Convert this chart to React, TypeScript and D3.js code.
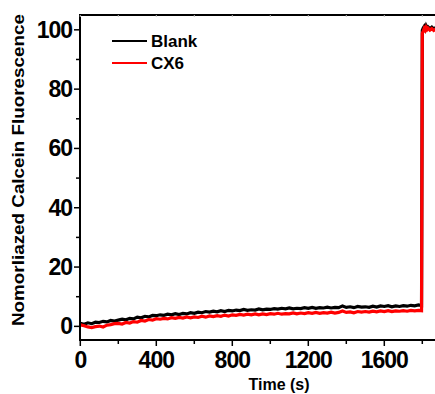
import React from "react";
import * as d3 from "d3";

const sampleStep = 20; // seconds between baseline samples
const blankBase = [
  1.0, 0.7, 1.2, 0.9, 1.4, 1.3, 1.7, 1.5, 2.0, 1.8, 2.1, 2.4, 2.2, 2.7, 2.5, 3.1, 2.9, 3.4, 3.2, 3.7,
  3.6, 3.9, 3.7, 4.1, 3.9, 4.3, 4.0, 4.4, 4.2, 4.6, 4.4, 4.8, 4.6, 5.0, 4.8, 5.1, 4.9, 5.3, 5.0, 5.4,
  5.2, 5.5, 5.3, 5.7, 5.4, 5.6, 5.5, 5.9, 5.6, 5.8, 5.7, 6.0, 5.8, 6.1, 5.9, 6.2, 5.9, 6.1, 6.0, 6.3,
  6.1, 6.4, 6.1, 6.3, 6.2, 6.5, 6.2, 6.4, 6.3, 6.9, 6.4, 6.6, 6.3, 6.7, 6.5, 6.6, 6.4, 6.8, 6.5, 6.9,
  6.7, 7.0, 6.6, 6.9, 6.7, 7.0, 6.8, 7.1, 6.9, 7.2,
];
const cx6Base = [
  0.5, 0.2, -0.2, -0.4, -0.1, 0.1, -0.2, 0.4, 0.6, 0.9, 1.0, 0.8, 1.3, 1.1, 1.6, 1.4, 2.0, 1.8, 2.3, 2.1,
  2.6, 2.4, 2.7, 2.5, 2.9, 2.7, 3.0, 2.8, 3.2, 2.9, 3.2, 3.0, 3.4, 3.1, 3.5, 3.3, 3.6, 3.4, 3.8, 3.5,
  3.9, 3.7, 4.0, 3.8, 4.1, 3.9, 4.2, 3.9, 4.2, 4.0, 4.3, 4.1, 4.4, 4.1, 4.3, 4.2, 4.5, 4.2, 4.5, 4.3,
  4.6, 4.4, 4.7, 4.4, 4.6, 4.5, 4.8, 4.5, 4.7, 5.2, 4.7, 4.9, 4.6, 5.0, 4.8, 5.0, 4.8, 5.1, 4.9, 5.2,
  5.0, 5.3, 5.0, 5.2, 5.1, 5.3, 5.1, 5.4, 5.2, 5.4,
];
const tailTimes = [1796, 1800, 1805, 1810, 1815, 1820, 1825, 1830, 1840, 1850, 1860, 1870, 1880, 1890];
const blankTail = [7.0, 99.8, 100.6, 101.1, 100.3, 101.3, 100.6, 101.0, 100.4, 100.9, 100.3, 100.7, 100.4, 100.6];
const cx6Tail = [5.3, 98.8, 99.6, 100.5, 99.9, 100.8, 100.1, 100.6, 99.9, 100.4, 99.8, 100.3, 100.0, 100.2];

const xTicks = [0, 400, 800, 1200, 1600];
const xMinor = [200, 600, 1000, 1400, 1800];
const yTicks = [0, 20, 40, 60, 80, 100];
const yMinor = [10, 30, 50, 70, 90];
const seriesNames = ["Blank", "CX6"];
const seriesColors = ["#000000", "#ff0000"];

type P = [number, number];
function build(base: number[], tail: number[]): P[] {
  const pts: P[] = base.map((v, i) => [i * sampleStep, v]);
  tailTimes.forEach((t, i) => pts.push([t, tail[i]]));
  return pts;
}

export default function App() {
  const W = 435, H = 394;
  const left = 80, top = 15, bottom = 340;
  const x = d3.scaleLinear().domain([0, 1900]).range([80.3, 441.3]);
  const y = d3.scaleLinear().domain([-4.6, 105]).range([bottom, top]);
  const line = d3.line<P>().x((d) => x(d[0])).y((d) => y(d[1]));
  const data = [build(blankBase, blankTail), build(cx6Base, cx6Tail)];
  const font = "'Liberation Sans', Arial, sans-serif";

  return (
    <svg width={W} height={H} style={{ position: "absolute", left: 0, top: 0, background: "#fff" }}>
      <defs>
        <clipPath id="plot">
          <rect x={left} y={top} width={W - left} height={bottom - top} />
        </clipPath>
      </defs>
      <g clipPath="url(#plot)">
        {data.map((d, i) => (
          <path key={i} d={line(d) || ""} fill="none" stroke={seriesColors[i]} strokeWidth={3.2} strokeLinejoin="miter" />
        ))}
      </g>
      {/* axes */}
      <line x1={left} x2={W} y1={top} y2={top} stroke="#000" strokeWidth={2} />
      <line x1={left} x2={left} y1={top - 1} y2={bottom + 1} stroke="#000" strokeWidth={2} />
      <line x1={left - 1} x2={W} y1={bottom} y2={bottom} stroke="#000" strokeWidth={2} />
      {yTicks.map((t) => (
        <g key={"y" + t}>
          <line x1={left - 6} x2={left} y1={y(t)} y2={y(t)} stroke="#000" strokeWidth={1.5} />
          <text x={left - 8} y={y(t) + 8} textAnchor="end" fontFamily={font} fontWeight="bold" fontSize={23} letterSpacing={-1}>
            {t}
          </text>
        </g>
      ))}
      {yMinor.map((t) => (
        <line key={"ym" + t} x1={left - 4} x2={left} y1={y(t)} y2={y(t)} stroke="#000" strokeWidth={1.5} />
      ))}
      {xTicks.map((t) => (
        <g key={"x" + t}>
          <line x1={x(t)} x2={x(t)} y1={bottom} y2={bottom + 6} stroke="#000" strokeWidth={1.5} />
          <line x1={x(t)} x2={x(t)} y1={top} y2={top + 2} stroke="#bbb" strokeWidth={1} />
          <text x={x(t)} y={368} textAnchor="middle" fontFamily={font} fontWeight="bold" fontSize={23} letterSpacing={-1}>
            {t}
          </text>
        </g>
      ))}
      {xMinor.map((t) => (
        <g key={"xm" + t}>
          <line x1={x(t)} x2={x(t)} y1={bottom} y2={bottom + 4} stroke="#000" strokeWidth={1.5} />
          <line x1={x(t)} x2={x(t)} y1={top} y2={top + 2} stroke="#bbb" strokeWidth={1} />
        </g>
      ))}
      <text x={279} y={390} textAnchor="middle" fontFamily={font} fontWeight="bold" fontSize={16}>
        Time (s)
      </text>
      <text
        transform={`translate(24,170) rotate(-90)`}
        textAnchor="middle"
        fontFamily={font}
        fontWeight="bold"
        fontSize={17}
        textLength={312}
        lengthAdjust="spacingAndGlyphs"
      >
        Nomorliazed Calcein Fluorescence
      </text>
      {/* legend */}
      {seriesNames.map((n, i) => (
        <g key={n}>
          <line x1={112} x2={147} y1={41 + i * 22} y2={41 + i * 22} stroke={seriesColors[i]} strokeWidth={2} />
          <text x={151} y={47 + i * 22} fontFamily={font} fontWeight="bold" fontSize={17}>
            {n}
          </text>
        </g>
      ))}
    </svg>
  );
}
